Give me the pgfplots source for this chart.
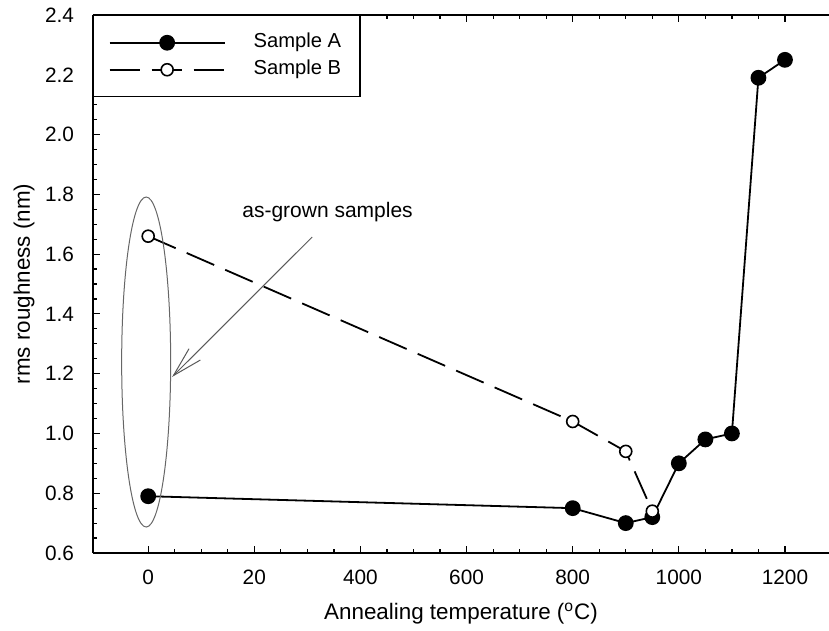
\documentclass[border=0pt]{standalone}
\usepackage{fontspec}
\setmainfont{Liberation Sans}
\usepackage{pgfplots}
\pgfplotsset{compat=1.18}
\usetikzlibrary{arrows.meta}
\begin{document}
\begin{tikzpicture}
\begin{axis}[
  scale only axis, width=368pt, height=269pt,
  xmin=-104, xmax=1283, ymin=0.6, ymax=2.4,
  axis x line*=box, axis y line*=left,
  axis line style={line width=0.75pt},
  xtick={0,200,400,600,800,1000,1200},
  xticklabels={0,20,400,600,800,1000,1200},
  ytick={0.6,0.8,1.0,1.2,1.4,1.6,1.8,2.0,2.2,2.4},
  minor x tick num=3, minor y tick num=3,
  tick align=inside,
  major tick length=3.5pt, minor tick length=2pt,
  tick style={black, line width=0.6pt},
  /pgf/number format/assume math mode=true,
  yticklabel style={xshift=-6pt, /pgf/number format/fixed, /pgf/number format/fixed zerofill, /pgf/number format/precision=1},
  ticklabel style={font=\fontsize{10.4}{12}\selectfont},
  xticklabel style={yshift=-5pt},
  xlabel={Annealing temperature (\textsuperscript{o}C)},
  ylabel={rms roughness (nm)},
  label style={font=\fontsize{11.2}{13}\selectfont},
  xlabel style={at={([yshift=-30.5pt]axis description cs:0.5,0)}, anchor=center},
  ylabel style={at={([xshift=-34.5pt]axis description cs:0,0.5)}, anchor=center},
  legend cell align=left,
  legend style={at={(0,1)}, anchor=north west, draw=black, line width=0.75pt,
    inner xsep=7.5pt, inner ysep=6.75pt, column sep=12pt, row sep=0pt,
    font=\fontsize{10.1}{12}\selectfont,
    nodes={inner xsep=2pt, inner ysep=2.25pt, text height=7pt, text depth=2pt}},
  legend image code/.code={\draw[mark repeat=2, mark phase=2, #1] plot coordinates {(0pt,0pt) (28.75pt,0pt) (57.5pt,0pt)};},
]
\addplot[black, line width=0.9pt, mark=*, mark size=3.5pt, mark options={solid, fill=black}]
  coordinates {(0,0.79) (800,0.75) (900,0.70) (950,0.72) (1000,0.90) (1050,0.98) (1100,1.00) (1150,2.19) (1200,2.25)};
\addlegendentry{Sample A}
\addplot[black, line width=0.9pt, dash pattern=on 15pt off 6pt, mark=*, mark size=3pt, mark options={solid, fill=white, line width=0.8pt}]
  coordinates {(0,1.66) (800,1.04) (900,0.94) (950,0.74)};
\addlegendentry{Sample B}
\draw[black!60, line width=0.5pt] (axis cs:-3.8,1.239) ellipse [x radius=12.25pt, y radius=82.5pt];
\draw[black!65, line width=0.5pt, -{Straight Barb[length=15pt, width=8pt]}] (axis cs:309,1.657) -- (axis cs:45,1.189);
\node[font=\fontsize{10.5}{12}\selectfont] at (axis cs:338,1.741) {as-grown samples};
\end{axis}
\pgfresetboundingbox
\path (-46.5pt,-39pt) rectangle (368pt,276.5pt);
\end{tikzpicture}
\end{document}
